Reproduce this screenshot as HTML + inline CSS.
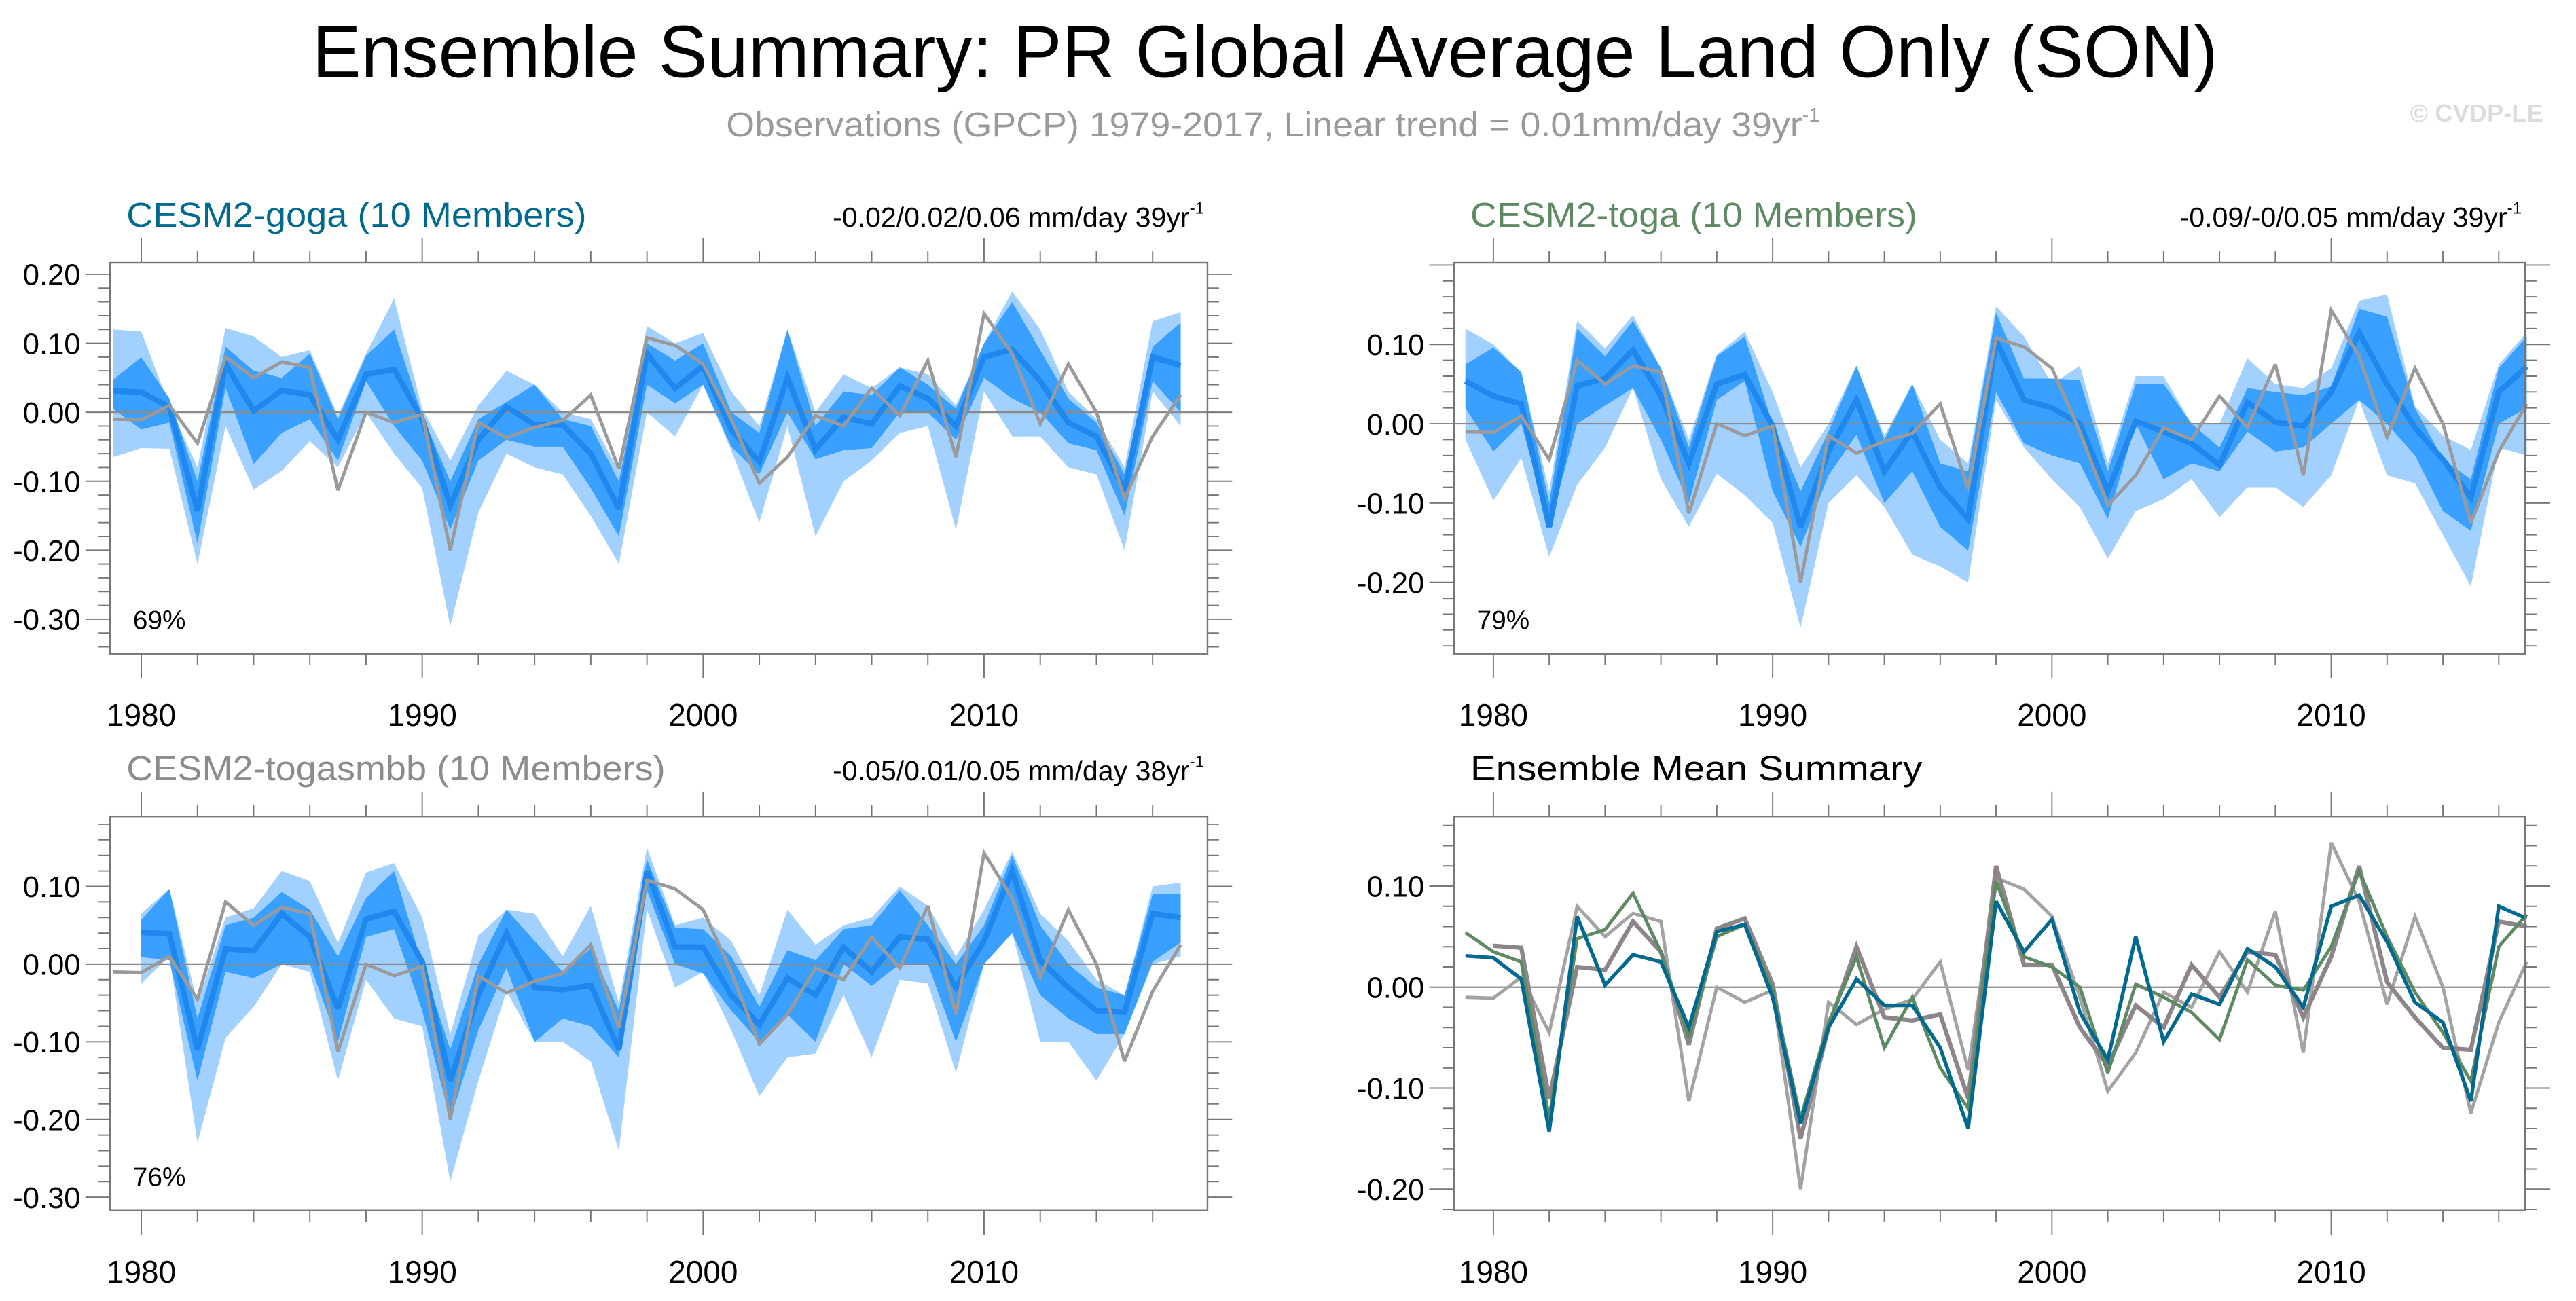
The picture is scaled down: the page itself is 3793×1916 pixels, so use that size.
<!DOCTYPE html>
<html><head><meta charset="utf-8"><style>
html,body{margin:0;padding:0;background:#fff;}
svg{display:block;font-family:"Liberation Sans",sans-serif;}
</style></head><body>
<svg id="chart" width="3793" height="1916" viewBox="0 0 1568 792.1" preserveAspectRatio="none">
<text x="190" y="47" font-size="45" textLength="1160" lengthAdjust="spacingAndGlyphs">Ensemble Summary: PR Global Average Land Only (SON)</text>
<text x="442" y="83" font-size="21" fill="#9a9a9a"><tspan textLength="655" lengthAdjust="spacingAndGlyphs">Observations (GPCP) 1979-2017, Linear trend = 0.01mm/day 39yr</tspan><tspan font-size="12" dy="-9">-1</tspan></text>
<text x="1548" y="74" font-size="15" font-weight="bold" fill="#dcdcdc" text-anchor="end">© CVDP-LE</text>
<g id="panels"></g>
</svg>
<script>
const years=[1979,1980,1981,1982,1983,1984,1985,1986,1987,1988,1989,1990,1991,1992,1993,1994,1995,1996,1997,1998,1999,2000,2001,2002,2003,2004,2005,2006,2007,2008,2009,2010,2011,2012,2013,2014,2015,2016,2017];
const yearsSmbb=years.slice(1);
const obs=[-0.01,-0.011,0.01,-0.045,0.08,0.05,0.073,0.065,-0.113,0.0,-0.015,-0.003,-0.20,-0.015,-0.037,-0.022,-0.012,0.025,-0.082,0.108,0.097,0.07,-0.01,-0.103,-0.065,-0.005,-0.02,0.035,-0.005,0.075,-0.065,0.143,0.085,-0.017,0.07,0.0,-0.125,-0.035,0.025];
const gogaMean=[0.031,0.029,0.008,-0.143,0.07,0.002,0.032,0.025,-0.04,0.055,0.062,-0.01,-0.135,-0.04,0.008,-0.018,-0.018,-0.06,-0.14,0.085,0.035,0.067,-0.025,-0.072,0.05,-0.054,-0.007,-0.017,0.038,0.02,-0.02,0.08,0.091,0.045,-0.015,-0.035,-0.113,0.08,0.068];
const gogaLightLo=[-0.065,-0.052,-0.053,-0.22,-0.02,-0.112,-0.085,-0.042,-0.08,0.0,-0.06,-0.11,-0.31,-0.145,-0.06,-0.08,-0.09,-0.15,-0.22,0.0,-0.035,0.04,-0.055,-0.16,-0.02,-0.18,-0.1,-0.07,-0.03,-0.02,-0.17,0.03,-0.035,-0.035,-0.08,-0.09,-0.2,0.03,-0.02];
const gogaLightHi=[0.12,0.117,0.01,-0.08,0.122,0.11,0.08,0.09,-0.005,0.085,0.165,0.005,-0.07,0.01,0.06,0.04,0.0,-0.01,-0.085,0.125,0.1,0.115,0.03,-0.02,0.12,0.0,0.055,0.035,0.065,0.055,0.01,0.1,0.175,0.12,0.03,-0.01,-0.08,0.132,0.145];
const gogaDarkLo=[0.005,-0.025,-0.015,-0.19,0.035,-0.075,-0.03,-0.01,-0.07,0.045,-0.02,-0.07,-0.17,-0.07,-0.04,-0.05,-0.05,-0.11,-0.18,0.04,0.013,0.04,-0.05,-0.09,0.0,-0.068,-0.055,-0.052,0.0,0.0,-0.04,0.05,0.02,0.0,-0.045,-0.055,-0.15,0.045,0.0];
const gogaDarkHi=[0.047,0.08,0.02,-0.1,0.095,0.06,0.05,0.085,-0.01,0.082,0.12,-0.005,-0.1,-0.01,0.015,0.04,-0.01,-0.02,-0.1,0.1,0.075,0.1,0.0,-0.03,0.12,-0.02,0.03,0.025,0.065,0.04,0.005,0.1,0.16,0.09,0.02,-0.015,-0.09,0.095,0.13];
const togaMean=[0.054,0.035,0.025,-0.13,0.048,0.057,0.093,0.035,-0.05,0.05,0.062,-0.003,-0.13,-0.035,0.03,-0.06,-0.01,-0.08,-0.12,0.105,0.03,0.02,0.0,-0.085,0.003,-0.01,-0.025,-0.052,0.027,0.002,-0.003,0.04,0.115,0.05,-0.005,-0.045,-0.093,0.04,0.072];
const togaLightLo=[-0.02,-0.097,-0.043,-0.168,-0.077,-0.03,0.045,-0.07,-0.13,-0.063,-0.09,-0.125,-0.257,-0.1,-0.065,-0.105,-0.165,-0.18,-0.2,0.03,-0.03,-0.07,-0.105,-0.17,-0.11,-0.095,-0.07,-0.118,-0.08,-0.08,-0.105,-0.065,0.03,-0.065,-0.075,-0.14,-0.205,-0.03,-0.04];
const togaLightHi=[0.12,0.1,0.065,-0.085,0.13,0.095,0.137,0.07,-0.02,0.087,0.116,0.04,-0.055,0.0,0.073,-0.015,0.05,-0.02,-0.05,0.148,0.11,0.05,0.073,-0.05,0.06,0.06,0.0,0.0,0.083,0.05,0.045,0.07,0.155,0.163,0.022,-0.015,-0.033,0.075,0.115];
const togaDarkLo=[0.02,-0.035,0.0,-0.13,0.0,0.023,0.045,-0.02,-0.1,0.03,0.054,-0.085,-0.155,-0.065,-0.014,-0.1,-0.06,-0.13,-0.16,0.04,-0.025,-0.04,-0.05,-0.12,0.0,-0.07,-0.05,-0.06,-0.01,-0.035,-0.03,0.0,0.03,0.0,-0.04,-0.11,-0.135,0.0,0.02];
const togaDarkHi=[0.075,0.096,0.065,-0.1,0.12,0.085,0.13,0.07,-0.03,0.085,0.11,0.0,-0.085,-0.01,0.073,-0.02,0.05,-0.05,-0.06,0.14,0.057,0.057,0.055,-0.06,0.05,0.05,0.0,-0.03,0.045,0.04,0.036,0.047,0.145,0.135,0.02,-0.045,-0.07,0.07,0.11];
const smbbMean=[0.041,0.039,-0.11,0.02,0.017,0.065,0.035,-0.057,0.058,0.068,0.003,-0.15,-0.04,0.04,-0.03,-0.033,-0.027,-0.11,0.12,0.022,0.022,-0.04,-0.078,-0.018,-0.04,0.022,-0.01,0.035,0.032,-0.03,0.03,0.12,0.005,-0.03,-0.06,-0.062,0.065,0.06];
const smbbLightLo=[-0.025,0.01,-0.23,-0.095,-0.055,0.0,-0.01,-0.15,-0.02,-0.07,-0.08,-0.28,-0.15,-0.035,-0.1,-0.1,-0.125,-0.24,0.07,-0.03,-0.01,-0.085,-0.17,-0.12,-0.115,-0.04,-0.12,-0.02,-0.025,-0.14,0.0,0.04,-0.1,-0.1,-0.15,-0.09,0.0,0.01];
const smbbLightHi=[0.065,0.097,-0.05,0.06,0.072,0.12,0.107,0.027,0.118,0.13,0.06,-0.09,0.037,0.07,0.065,0.01,0.075,-0.05,0.15,0.05,0.06,0.03,-0.04,0.07,0.025,0.05,0.06,0.1,0.075,0.01,0.07,0.145,0.065,0.03,-0.02,-0.04,0.1,0.105];
const smbbDarkLo=[0.009,0.005,-0.15,-0.01,-0.018,0.0,0.0,-0.1,0.035,0.045,-0.06,-0.2,-0.085,-0.005,-0.1,-0.07,-0.08,-0.12,0.095,0.0,-0.012,-0.06,-0.1,-0.065,-0.1,0.0,-0.028,0.0,0.0,-0.1,0.0,0.04,-0.04,-0.07,-0.09,-0.09,0.003,0.028];
const smbbDarkHi=[0.057,0.097,-0.07,0.05,0.06,0.093,0.07,0.01,0.085,0.12,0.0,-0.11,0.0,0.07,0.03,-0.01,0.02,-0.06,0.135,0.047,0.045,0.01,-0.055,0.018,0.005,0.045,0.05,0.095,0.05,0.0,0.05,0.14,0.05,0.0,-0.03,-0.04,0.09,0.09];
const ticks1=[0.20,0.10,0.00,-0.10,-0.20,-0.30];
const ticks2=[0.10,0.00,-0.10,-0.20];
const ticks3=[0.10,0.00,-0.10,-0.20,-0.30];
const ticks4=[0.10,0.00,-0.10,-0.20];
const xTickYears=[1980,1990,2000,2010];

const NS="http://www.w3.org/2000/svg";
const root=document.getElementById('panels');
function mk(tag,attrs,parent){const e=document.createElementNS(NS,tag);for(const k in attrs)e.setAttribute(k,attrs[k]);(parent||root).appendChild(e);return e;}
function fmt(v){return (v<0?'-':'')+Math.abs(v).toFixed(2);}

function panel(cfg){
  const g=mk('g',{});
  
  
  const X=yr=>cfg.x0+(yr-1980)*cfg.dx;
  const Y=v=>cfg.zero-v*cfg.dy;
  const L=cfg.left,R=cfg.right,T=cfg.top,B=cfg.bottom;
  cfg.bands.forEach(b=>{
    let d='';
    b.yrs.forEach((yr,i)=>{d+=(i?'L':'M')+X(yr).toFixed(2)+','+Y(b.hi[i]).toFixed(2);});
    for(let i=b.yrs.length-1;i>=0;i--)d+='L'+X(b.yrs[i]).toFixed(2)+','+Y(b.lo[i]).toFixed(2);
    const p=mk('path',{d:d+'Z',fill:b.color,stroke:'none'},g);
    
    
  });
  const z=mk('line',{x1:L,x2:R,y1:Y(0),y2:Y(0),stroke:'#8a8a8a','stroke-width':0.9},g);
  
  
  cfg.lines.forEach(s=>{
    const pts=s.yrs.map((yr,i)=>X(yr).toFixed(2)+','+Y(s.vals[i]).toFixed(2)).join(' ');
    const pl=mk('polyline',{points:pts,fill:'none',stroke:s.color,'stroke-width':s.w,'stroke-linejoin':'miter','stroke-miterlimit':3},g);
    
    
  });
  const fr=mk('rect',{x:L,y:T,width:R-L,height:B-T,fill:'none',stroke:'#777','stroke-width':1},g);
  
  
  for(let yr=1980;yr<=2018;yr+=2){
    const x=X(yr); if(x<L||x>R)continue;
    const maj=yr%10===0, len=maj?15:7;
    mk('line',{x1:x,x2:x,y1:T,y2:T-len,stroke:'#777','stroke-width':0.8},g);
    mk('line',{x1:x,x2:x,y1:B,y2:B+len,stroke:'#777','stroke-width':0.8},g);
  }
  xTickYears.forEach(yr=>{
    const t=mk('text',{x:X(yr),y:B+44,'font-size':19,'text-anchor':'middle'},g);
    t.textContent=yr;
    
    
  });
  const vmax=(cfg.zero-T)/cfg.dy, vmin=(cfg.zero-B)/cfg.dy;
  for(let k=Math.ceil(vmin*50);k<=Math.floor(vmax*50);k++){
    const v=k/50, y=Y(v), maj=(k%5===0), len=maj?15:7;
    mk('line',{x1:L,x2:L-len,y1:y,y2:y,stroke:'#777','stroke-width':0.8},g);
    mk('line',{x1:R,x2:R+len,y1:y,y2:y,stroke:'#777','stroke-width':0.8},g);
  }
  cfg.ticks.forEach(v=>{
    const t=mk('text',{x:L-18,y:Y(v)+6.5,'font-size':18,'text-anchor':'end'},g);
    t.textContent=fmt(v);
    
    
  });
  const tt=mk('text',{x:L+10,y:T-22,'font-size':21,fill:cfg.titleColor,textLength:cfg.titleLen,lengthAdjust:'spacingAndGlyphs'},g);
  tt.textContent=cfg.title;
  
  
  if(cfg.trend){
    const tr=mk('text',{x:R-2,y:T-22,'font-size':17,'text-anchor':'end'},g);
    
    
    const a=mk('tspan',{},tr);a.textContent=cfg.trend;
    const b=mk('tspan',{'font-size':10,dy:-8},tr);b.textContent='-1';
  }
  if(cfg.pct){
    const pc=mk('text',{x:L+14,y:B-15,'font-size':16},g);
    pc.textContent=cfg.pct;
    
    
  }
}
const LB='#a2d1ff',DB='#39a0ff',ML='#1e88ee',OG='#9a9a9a';
panel({name:'panel-cesm2-goga',x0:86,dx:17.1,zero:251,dy:420,left:67,right:735,top:160,bottom:398,ticks:ticks1,
  title:'CESM2-goga (10 Members)',titleColor:'#00698f',titleLen:280,trend:'-0.02/0.02/0.06 mm/day 39yr',pct:'69%',
  bands:[{name:'range-band',yrs:years,lo:gogaLightLo,hi:gogaLightHi,color:LB},{name:'iqr-band',yrs:years,lo:gogaDarkLo,hi:gogaDarkHi,color:DB}],
  lines:[{name:'ensemble-mean-line',yrs:years,vals:gogaMean,color:ML,w:3.4},{name:'observations-line',yrs:years,vals:obs,color:OG,w:2}]});
panel({name:'panel-cesm2-toga',x0:909,dx:17.0,zero:258,dy:483,left:885,right:1537,top:160,bottom:398,ticks:ticks2,
  title:'CESM2-toga (10 Members)',titleColor:'#5e8a63',titleLen:272,trend:'-0.09/-0/0.05 mm/day 39yr',pct:'79%',
  bands:[{name:'range-band',yrs:years,lo:togaLightLo,hi:togaLightHi,color:LB},{name:'iqr-band',yrs:years,lo:togaDarkLo,hi:togaDarkHi,color:DB}],
  lines:[{name:'ensemble-mean-line',yrs:years,vals:togaMean,color:ML,w:3.4},{name:'observations-line',yrs:years,vals:obs,color:OG,w:2}]});
panel({name:'panel-cesm2-togasmbb',x0:86,dx:17.1,zero:587,dy:473,left:67,right:735,top:497,bottom:737,ticks:ticks3,
  title:'CESM2-togasmbb (10 Members)',titleColor:'#8c8c8c',titleLen:328,trend:'-0.05/0.01/0.05 mm/day 38yr',pct:'76%',
  bands:[{name:'range-band',yrs:yearsSmbb,lo:smbbLightLo,hi:smbbLightHi,color:LB},{name:'iqr-band',yrs:yearsSmbb,lo:smbbDarkLo,hi:smbbDarkHi,color:DB}],
  lines:[{name:'ensemble-mean-line',yrs:yearsSmbb,vals:smbbMean,color:ML,w:3.4},{name:'observations-line',yrs:years,vals:obs,color:OG,w:2}]});
panel({name:'panel-ensemble-mean-summary',x0:909,dx:17.0,zero:601,dy:615,left:885,right:1537,top:497,bottom:737,ticks:ticks4,
  title:'Ensemble Mean Summary',titleColor:'#000',titleLen:275,
  bands:[],
  lines:[{name:'obs-line',yrs:years,vals:obs,color:'#a3a3a3',w:2},
         {name:'togasmbb-mean-line',yrs:yearsSmbb,vals:smbbMean,color:'#8d8589',w:2.6},
         {name:'toga-mean-line',yrs:years,vals:togaMean,color:'#5e8a63',w:2},
         {name:'goga-mean-line',yrs:years,vals:gogaMean,color:'#00698f',w:2.2}]});
</script>
</body></html>
